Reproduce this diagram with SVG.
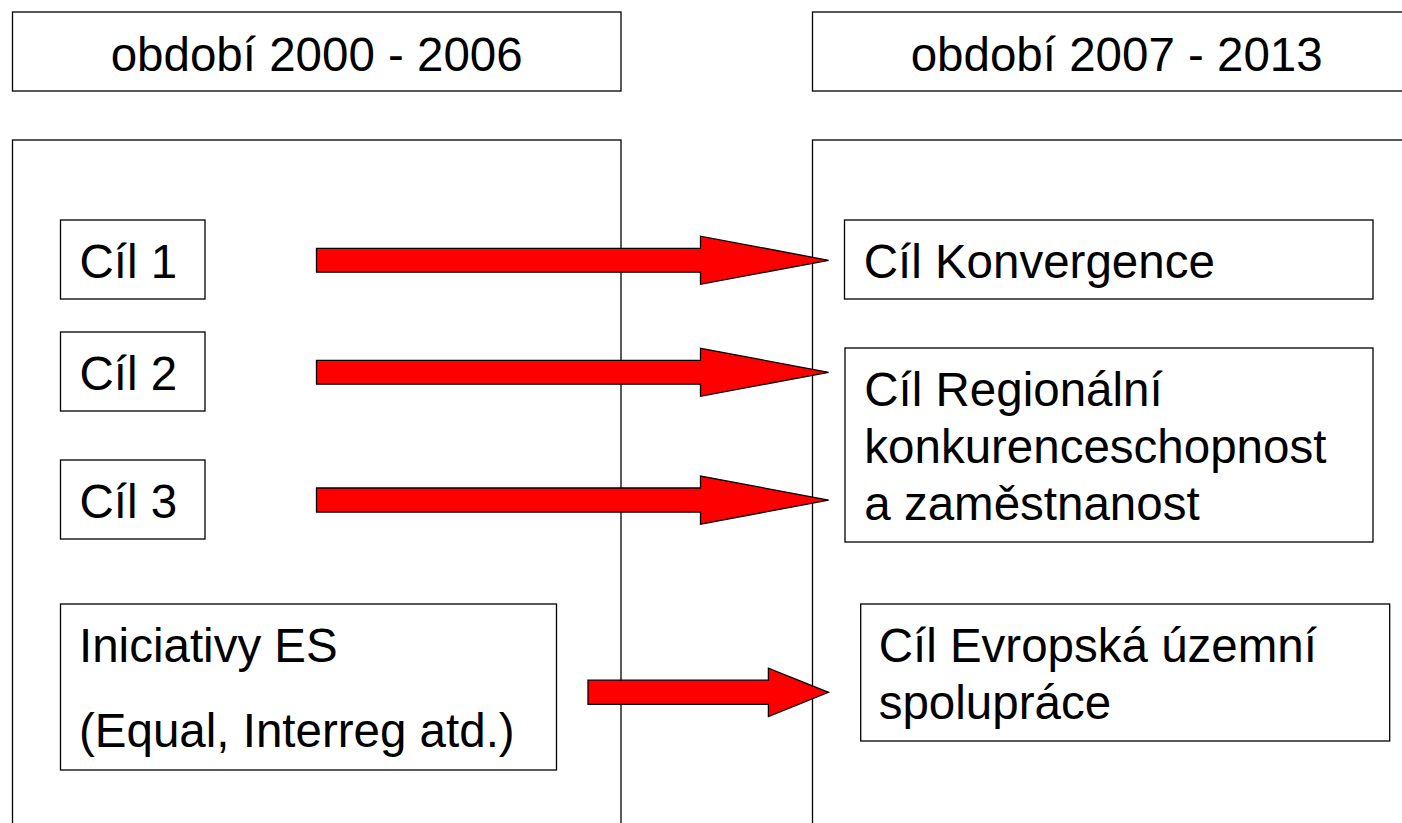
<svg xmlns="http://www.w3.org/2000/svg" width="1402" height="823" viewBox="0 0 1402 823">
<style>
.box{fill:#fff;stroke:#000;stroke-width:1.3}
.panel{fill:none;stroke:#000;stroke-width:1.3}
.t{font-family:"Liberation Sans",Arial,sans-serif;font-size:47.5px;fill:#000}
.arrow{fill:#ff0000;stroke:#000;stroke-width:1.3;stroke-linejoin:miter}
</style>
<rect width="1402" height="823" fill="#fff"/>
<g id="panel-left"><rect class="panel" x="12.5" y="140" width="608.5" height="720"/></g>
<g id="panel-right"><rect class="panel" x="812.5" y="140" width="608.5" height="720"/></g>
<g id="header-left"><rect class="box" x="12.5" y="12" width="608.5" height="79"/><text class="t" x="316.7" y="70.5" text-anchor="middle">období 2000 - 2006</text></g>
<g id="header-right"><rect class="box" x="812.5" y="12" width="608.5" height="79"/><text class="t" x="1116.7" y="70.5" text-anchor="middle">období 2007 - 2013</text></g>
<g id="cil1"><rect class="box" x="60.5" y="220" width="144.5" height="79"/><text class="t" x="79.4" y="278">Cíl 1</text></g>
<g id="cil2"><rect class="box" x="60.5" y="332" width="144.5" height="79"/><text class="t" x="79.4" y="390">Cíl 2</text></g>
<g id="cil3"><rect class="box" x="60.5" y="460" width="144.5" height="79"/><text class="t" x="79.4" y="518">Cíl 3</text></g>
<g id="iniciativy"><rect class="box" x="60.5" y="604" width="496" height="166"/><text class="t" x="79" y="662">Iniciativy ES</text><text class="t" x="79" y="747">(Equal, Interreg atd.)</text></g>
<g id="konvergence"><rect class="box" x="844.5" y="220" width="528.5" height="79"/><text class="t" x="863.7" y="278">Cíl Konvergence</text></g>
<g id="regionalni"><rect class="box" x="845" y="348" width="528" height="194"/><text class="t" x="864.3" y="406">Cíl Regionální</text><text class="t" x="864.3" y="463">konkurenceschopnost</text><text class="t" x="864.3" y="520">a zaměstnanost</text></g>
<g id="evropska"><rect class="box" x="860.7" y="604" width="529" height="137"/><text class="t" x="878.7" y="662">Cíl Evropská územní</text><text class="t" x="878.7" y="719">spolupráce</text></g>
<g id="connectors">
<polygon class="arrow" points="316.5,248.3 700.5,248.3 700.5,236.2 828.6,260.3 700.5,284.3 700.5,272.2 316.5,272.2"/>
<polygon class="arrow" points="316.5,360.3 700.5,360.3 700.5,348.3 828.6,372.3 700.5,396.3 700.5,384.2 316.5,384.2"/>
<polygon class="arrow" points="316.5,488 700.5,488 700.5,476 828.6,500.1 700.5,524.2 700.5,512.1 316.5,512.1"/>
<polygon class="arrow" points="588,680.2 768.4,680.2 768.4,668.2 828.5,692.3 768.4,716.5 768.4,704.4 588,704.4"/>
</g>
</svg>
